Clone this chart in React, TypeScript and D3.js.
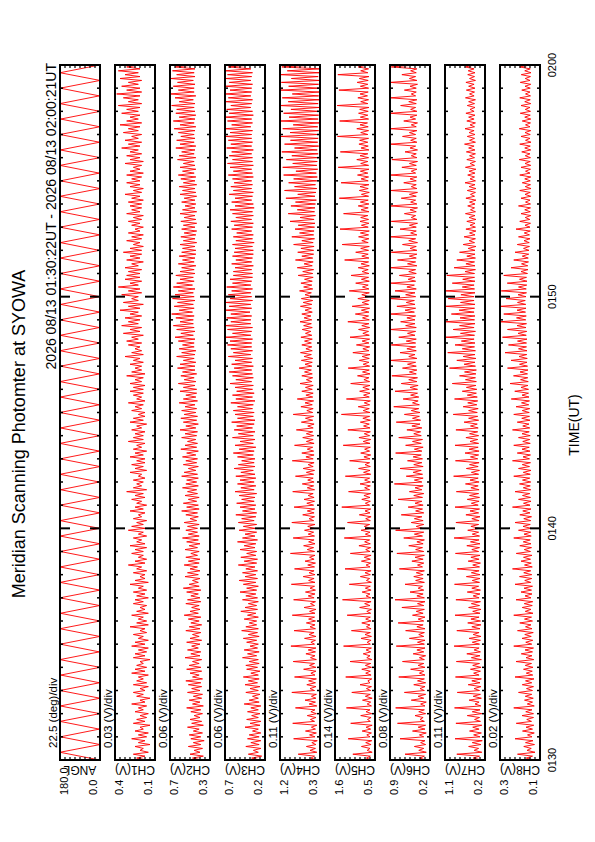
import React from "react";
import * as d3 from "d3";

// the plot is laid out in landscape (842 x 595) and turned onto the portrait page
const PAGE_W = 842;
const PAGE_H = 595;

const title = "Meridian Scanning Photomter at SYOWA";
const periodLabel = "2026 08/13 01:30:22UT - 2026 08/13 02:00:21UT";
const xTitle = "TIME(UT)";

const timeTicks = [0, 10, 20, 30]; // minutes after 01:30
const timeTickLabels = ["0130", "0140", "0150", "0200"];

const channelNames = ["ANGL", "CH1(V)", "CH2(V)", "CH3(V)", "CH4(V)", "CH5(V)", "CH6(V)", "CH7(V)", "CH8(V)"];
const divLabels = [
  "22.5 (deg)/div", "0.03 (V)/div", "0.06 (V)/div", "0.06 (V)/div", "0.11 (V)/div",
  "0.14 (V)/div", "0.08 (V)/div", "0.11 (V)/div", "0.02 (V)/div",
];
const axisMin = [0, 0.13, 0.26, 0.22, 0.3, 0.5, 0.22, 0.24, 0.14];
const axisDiv = [22.5, 0.03, 0.06, 0.06, 0.11, 0.14, 0.08, 0.11, 0.02];
const topLabels = ["180.0", "0.4", "0.7", "0.7", "1.2", "1.6", "0.9", "1.1", "0.3"];
const bottomLabels = ["0.0", "0.1", "0.3", "0.2", "0.3", "0.5", "0.2", "0.2", "0.1"];

// scan angle at the turning points, one every 20 s
const angl = [
  2, 180, 0, 178, 3, 180, 1, 179, 0, 180,
  2, 177, 0, 180, 3, 179, 1, 180, 0, 178,
  2, 180, 0, 179, 3, 180, 1, 178, 0, 180,
  2, 179, 0, 180, 1, 177, 3, 180, 0, 179,
  2, 180, 1, 178, 0, 180, 3, 179, 0, 180,
  2, 178, 1, 180, 0, 179, 3, 180, 0, 177,
  2, 180, 1, 179, 0, 180, 3, 178, 0, 180,
  2, 179, 1, 180, 0, 178, 3, 180, 0, 179,
  2, 180, 1, 177, 0, 180, 3, 179, 0, 180,
  2,
];

// photometer channels, one sample every 5 s (one row per minute)
const ch1 = [
  .18, .24, .19, .26, .17, .22, .20, .25, .16, .23, .19, .27,
  .18, .23, .17, .25, .20, .22, .16, .26, .19, .24, .18, .22,
  .17, .25, .20, .23, .18, .27, .19, .22, .16, .24, .20, .26,
  .19, .22, .17, .26, .18, .24, .20, .23, .17, .27, .19, .25,
  .18, .24, .20, .22, .16, .26, .19, .25, .18, .23, .17, .27,
  .19, .25, .17, .23, .20, .26, .18, .22, .19, .28, .17, .24,
  .18, .23, .20, .27, .17, .24, .19, .22, .18, .26, .20, .25,
  .17, .24, .19, .26, .18, .23, .20, .28, .17, .25, .19, .22,
  .19, .26, .18, .24, .21, .29, .19, .25, .18, .23, .20, .27,
  .20, .25, .18, .28, .19, .24, .21, .26, .18, .23, .20, .29,
  .19, .27, .20, .24, .18, .26, .21, .23, .19, .28, .20, .25,
  .18, .24, .21, .27, .19, .25, .20, .30, .18, .26, .21, .24,
  .20, .26, .19, .23, .21, .28, .18, .25, .20, .27, .19, .24,
  .19, .28, .20, .25, .18, .26, .21, .24, .19, .29, .20, .26,
  .20, .25, .19, .27, .21, .24, .18, .28, .20, .26, .19, .23,
  .19, .27, .21, .25, .20, .29, .19, .24, .21, .26, .20, .28,
  .20, .26, .19, .28, .21, .25, .20, .30, .19, .27, .21, .25,
  .21, .28, .20, .26, .22, .31, .20, .27, .21, .25, .22, .29,
  .21, .30, .23, .27, .20, .32, .22, .28, .21, .33, .23, .29,
  .22, .31, .21, .28, .23, .34, .22, .29, .20, .32, .23, .27,
  .23, .33, .21, .29, .22, .35, .23, .28, .21, .31, .22, .30,
  .22, .29, .21, .31, .23, .27, .20, .30, .22, .28, .21, .32,
  .21, .28, .20, .26, .22, .30, .21, .27, .20, .29, .22, .25,
  .20, .27, .22, .29, .21, .26, .20, .30, .22, .27, .21, .28,
  .21, .29, .20, .27, .22, .31, .21, .26, .20, .28, .22, .30,
  .22, .27, .21, .30, .20, .28, .22, .26, .21, .31, .20, .28,
  .22, .30, .21, .28, .23, .33, .22, .29, .21, .31, .23, .27,
  .21, .32, .23, .29, .22, .34, .21, .30, .23, .28, .22, .33,
  .23, .30, .22, .35, .21, .29, .23, .32, .22, .36, .21, .30,
  .22, .33, .23, .29, .21, .34, .22, .31, .23, .35, .22, .30,
  .22,
];
const ch2 = [
  .36, .47, .34, .50, .38, .45, .35, .52, .37, .46, .33, .49,
  .37, .51, .35, .46, .39, .53, .34, .48, .36, .50, .38, .45,
  .35, .49, .37, .54, .34, .47, .38, .51, .36, .46, .35, .53,
  .38, .48, .36, .52, .37, .55, .35, .47, .39, .50, .36, .54,
  .37, .51, .39, .47, .36, .56, .38, .49, .37, .53, .40, .48,
  .38, .54, .36, .50, .39, .47, .37, .55, .38, .51, .36, .49,
  .39, .52, .37, .57, .40, .50, .38, .48, .39, .55, .37, .53,
  .38, .49, .40, .54, .37, .58, .39, .51, .40, .47, .38, .56,
  .40, .53, .38, .50, .41, .57, .39, .52, .38, .55, .41, .49,
  .39, .56, .41, .51, .38, .54, .40, .59, .39, .52, .41, .55,
  .41, .53, .39, .57, .42, .50, .40, .55, .41, .60, .39, .54,
  .40, .58, .42, .52, .39, .56, .41, .53, .42, .59, .40, .55,
  .42, .54, .40, .60, .41, .57, .43, .52, .40, .58, .42, .55,
  .41, .59, .43, .54, .40, .61, .42, .56, .41, .53, .43, .60,
  .42, .56, .41, .62, .43, .55, .40, .58, .42, .61, .41, .57,
  .43, .60, .42, .56, .44, .63, .41, .58, .43, .55, .42, .62,
  .42, .58, .44, .64, .43, .57, .45, .61, .42, .59, .44, .65,
  .44, .62, .43, .58, .45, .66, .44, .60, .43, .63, .45, .59,
  .45, .64, .44, .68, .46, .61, .44, .66, .45, .70, .46, .62,
  .46, .67, .45, .72, .47, .63, .45, .69, .46, .65, .44, .71,
  .45, .68, .46, .64, .44, .70, .47, .66, .45, .62, .46, .67,
  .44, .62, .45, .60, .43, .64, .45, .59, .44, .63, .43, .60,
  .43, .59, .44, .62, .42, .58, .44, .61, .43, .57, .42, .60,
  .44, .58, .42, .61, .43, .57, .44, .62, .42, .59, .44, .56,
  .43, .60, .44, .57, .42, .62, .43, .59, .44, .63, .42, .58,
  .44, .61, .43, .64, .45, .59, .43, .62, .44, .58, .45, .65,
  .43, .63, .45, .60, .44, .67, .43, .62, .45, .66, .44, .61,
  .45, .64, .44, .69, .43, .62, .45, .70, .44, .63, .43, .67,
  .44, .66, .45, .72, .44, .63, .46, .68, .43, .74, .45, .64,
  .45, .70, .44, .65, .46, .73, .44, .66, .45, .71, .44, .68,
  .44,
];
const ch3 = [
  .28, .38, .26, .42, .30, .36, .27, .45, .29, .39, .27, .43,
  .29, .41, .27, .37, .30, .46, .28, .40, .27, .44, .30, .38,
  .28, .43, .30, .39, .27, .47, .29, .41, .30, .37, .28, .45,
  .30, .40, .28, .46, .31, .42, .29, .48, .30, .39, .28, .44,
  .31, .45, .29, .41, .30, .49, .32, .43, .29, .47, .31, .40,
  .30, .44, .32, .48, .29, .42, .31, .50, .30, .45, .32, .41,
  .32, .47, .30, .43, .33, .51, .31, .46, .32, .42, .30, .49,
  .31, .45, .33, .52, .32, .44, .30, .48, .33, .53, .31, .46,
  .33, .49, .31, .45, .34, .54, .32, .47, .31, .51, .33, .44,
  .32, .52, .34, .47, .33, .55, .31, .49, .34, .46, .32, .53,
  .34, .48, .32, .54, .35, .50, .33, .57, .32, .49, .34, .52,
  .33, .56, .35, .50, .34, .53, .32, .58, .35, .51, .33, .55,
  .35, .52, .33, .57, .34, .51, .36, .59, .34, .54, .35, .50,
  .34, .55, .36, .60, .35, .53, .33, .58, .36, .52, .34, .61,
  .36, .54, .34, .59, .37, .56, .35, .62, .34, .55, .36, .58,
  .35, .60, .37, .55, .36, .63, .34, .57, .37, .61, .35, .56,
  .37, .58, .36, .64, .38, .57, .36, .61, .37, .65, .38, .59,
  .36, .62, .38, .58, .37, .66, .39, .60, .37, .63, .38, .67,
  .38, .64, .37, .69, .39, .61, .38, .67, .37, .70, .39, .63,
  .39, .68, .38, .63, .40, .70, .38, .65, .39, .69, .37, .64,
  .38, .66, .39, .62, .37, .68, .39, .61, .38, .64, .37, .60,
  .37, .60, .38, .58, .36, .62, .38, .57, .37, .61, .36, .59,
  .36, .58, .37, .61, .35, .57, .37, .60, .36, .56, .38, .62,
  .37, .59, .36, .63, .38, .57, .36, .61, .37, .64, .35, .58,
  .36, .62, .38, .58, .37, .65, .36, .60, .38, .63, .37, .59,
  .38, .61, .36, .66, .37, .60, .38, .64, .36, .67, .37, .61,
  .37, .65, .38, .62, .36, .68, .38, .63, .37, .66, .38, .69,
  .38, .64, .37, .70, .39, .62, .37, .67, .38, .70, .36, .65,
  .37, .68, .39, .63, .38, .70, .37, .66, .39, .70, .38, .64,
  .38, .70, .37, .65, .39, .69, .38, .67, .37, .70, .39, .66,
  .38,
];
const ch4 = [
  .38, .50, .42, .78, .37, .52, .40, .60, .39, .48, .36, .88,
  .41, .53, .38, .62, .40, .49, .37, .90, .42, .51, .39, .58,
  .38, .50, .41, .84, .37, .54, .40, .63, .39, .49, .38, .92,
  .42, .52, .39, .59, .40, .55, .38, .86, .41, .50, .39, .66,
  .39, .53, .42, .89, .38, .51, .41, .61, .40, .56, .39, .94,
  .42, .50, .40, .64, .39, .54, .43, .87, .40, .52, .41, .60,
  .40, .55, .42, .91, .41, .53, .39, .65, .42, .51, .40, .88,
  .43, .56, .41, .62, .40, .52, .42, .93, .41, .55, .43, .67,
  .41, .54, .43, .86, .42, .57, .40, .63, .43, .53, .41, .95,
  .42, .58, .44, .66, .41, .55, .43, .89, .42, .56, .44, .64,
  .43, .57, .41, .92, .44, .54, .42, .68, .43, .58, .42, .87,
  .44, .59, .42, .65, .43, .56, .45, .90, .42, .58, .44, .69,
  .43, .57, .45, .84, .44, .60, .42, .67, .45, .56, .43, .91,
  .45, .61, .43, .70, .44, .58, .46, .86, .43, .60, .45, .68,
  .44, .60, .46, .82, .45, .57, .43, .71, .46, .62, .44, .89,
  .46, .59, .45, .72, .47, .63, .44, .80, .46, .61, .45, .70,
  .47, .62, .45, .74, .48, .60, .46, .70, .47, .64, .49, .76,
  .48, .63, .47, .71, .46, .65, .49, .73, .47, .61, .48, .70,
  .49, .64, .47, .72, .48, .62, .50, .69, .47, .66, .49, .74,
  .48, .65, .50, .70, .47, .63, .49, .73, .48, .67, .46, .71,
  .47, .63, .49, .75, .46, .66, .48, .72, .47, .64, .45, .78,
  .46, .68, .44, .80, .47, .65, .45, .84, .46, .70, .44, .79,
  .44, .72, .43, .88, .45, .70, .42, .92, .44, .75, .43, .85,
  .42, .78, .41, .96, .43, .74, .40, 1.00, .42, .80, .41, .94,
  .40, .84, .38, 1.05, .41, .79, .39, 1.08, .37, .86, .40, .99,
  .37, .88, .36, 1.10, .38, .83, .35, 1.12, .37, .90, .36, 1.04,
  .35, .92, .34, 1.14, .36, .86, .33, 1.08, .35, .95, .34, 1.16,
  .34, .96, .33, 1.12, .35, .89, .32, 1.17, .34, .98, .33, 1.10,
  .33, .94, .32, 1.18, .34, 1.00, .31, 1.13, .33, .91, .32, 1.17,
  .32, .99, .33, 1.15, .31, .93, .34, 1.18, .32, 1.02, .31, 1.14,
  .33,
];
const ch5 = [
  .60, .74, .63, 1.12, .58, .72, .64, .88, .61, .76, .59, 1.25,
  .64, .73, .60, .86, .62, .75, .58, 1.18, .63, .71, .61, .90,
  .59, .75, .64, 1.30, .60, .72, .62, .85, .58, .77, .63, 1.15,
  .62, .74, .60, .92, .64, .70, .59, 1.32, .61, .76, .63, .87,
  .60, .77, .62, 1.20, .59, .73, .64, .83, .62, .75, .60, 1.38,
  .63, .72, .61, .89, .60, .78, .63, 1.16, .61, .74, .64, .87,
  .61, .76, .63, 1.28, .62, .73, .60, .93, .64, .79, .61, 1.41,
  .62, .75, .64, .86, .61, .77, .63, 1.22, .60, .74, .65, .91,
  .63, .78, .61, 1.34, .64, .75, .62, .88, .63, .80, .61, 1.19,
  .64, .76, .62, .95, .63, .79, .65, 1.36, .62, .77, .64, .89,
  .62, .80, .65, 1.27, .63, .76, .61, .94, .64, .78, .62, 1.43,
  .65, .77, .63, .87, .64, .81, .62, 1.24, .65, .79, .63, .92,
  .63, .79, .65, 1.33, .62, .82, .64, .96, .63, .78, .65, 1.21,
  .64, .81, .62, .90, .65, .79, .63, 1.39, .64, .83, .62, .95,
  .65, .80, .63, 1.26, .64, .82, .66, .91, .63, .84, .65, 1.44,
  .64, .83, .66, .97, .65, .80, .63, 1.30, .66, .82, .64, .93,
  .66, .84, .64, 1.18, .65, .81, .67, .99, .64, .85, .66, 1.25,
  .65, .83, .67, .94, .66, .86, .64, 1.12, .67, .84, .65, 1.02,
  .67, .86, .65, 1.20, .66, .84, .68, .96, .65, .87, .67, 1.26,
  .66, .85, .68, 1.05, .67, .88, .65, 1.14, .68, .86, .66, .98,
  .68, .87, .66, 1.22, .67, .85, .69, 1.04, .66, .88, .68, 1.17,
  .67, .86, .69, .97, .66, .89, .68, 1.35, .67, .87, .69, 1.04,
  .68, .90, .66, 1.42, .69, .87, .67, .96, .68, .91, .66, 1.48,
  .69, .88, .67, .92, .68, .90, .70, 1.38, .67, .89, .69, .97,
  .67, .91, .69, 1.50, .68, .88, .66, .94, .69, .92, .67, 1.45,
  .69, .89, .68, .99, .70, .91, .67, 1.53, .68, .90, .70, 1.01,
  .68, .92, .70, 1.47, .67, .89, .69, .95, .70, .93, .68, 1.55,
  .70, .90, .68, 1.01, .69, .92, .71, 1.49, .68, .91, .70, .96,
  .69, .93, .67, 1.56, .70, .90, .68, .98, .71, .92, .69, 1.51,
  .68, .91, .70, 1.00, .69, .94, .67, 1.54, .70, .90, .68, .97,
  .69,
];
const ch6 = [
  .29, .38, .31, .62, .28, .40, .32, .47, .29, .37, .30, .70,
  .32, .39, .28, .50, .30, .41, .29, .74, .31, .38, .33, .46,
  .29, .40, .31, .77, .30, .37, .28, .52, .32, .41, .29, .63,
  .31, .38, .30, .48, .29, .42, .31, .72, .30, .39, .32, .53,
  .30, .41, .32, .66, .31, .39, .29, .49, .32, .43, .30, .76,
  .31, .42, .30, .55, .32, .40, .31, .61, .30, .43, .33, .73,
  .32, .41, .30, .50, .33, .44, .31, .67, .32, .42, .30, .78,
  .31, .43, .33, .54, .32, .41, .34, .62, .31, .45, .33, .48,
  .33, .44, .31, .71, .34, .42, .32, .51, .33, .46, .31, .75,
  .32, .45, .34, .56, .33, .43, .31, .64, .34, .47, .32, .77,
  .34, .44, .32, .52, .33, .47, .35, .68, .32, .45, .34, .57,
  .33, .46, .35, .73, .34, .48, .32, .55, .35, .46, .33, .79,
  .35, .47, .33, .60, .34, .49, .36, .70, .33, .48, .35, .58,
  .34, .49, .36, .77, .35, .47, .33, .61, .36, .50, .34, .72,
  .36, .48, .37, .59, .35, .51, .38, .76, .37, .50, .39, .63,
  .38, .52, .40, .80, .39, .50, .41, .65, .40, .53, .42, .78,
  .42, .54, .41, .68, .43, .56, .42, .83, .44, .55, .43, .66,
  .44, .58, .45, .86, .43, .56, .46, .70, .44, .59, .45, .84,
  .45, .60, .44, .72, .46, .58, .45, .86, .44, .61, .46, .69,
  .46, .59, .45, .86, .47, .62, .45, .75, .46, .60, .47, .86,
  .45, .61, .46, .78, .44, .59, .47, .85, .45, .57, .46, .71,
  .44, .56, .45, .86, .43, .58, .45, .74, .44, .55, .43, .84,
  .43, .54, .44, .66, .42, .56, .45, .86, .43, .53, .44, .70,
  .44, .55, .42, .84, .43, .52, .45, .63, .44, .54, .42, .86,
  .43, .53, .45, .68, .44, .55, .42, .85, .43, .52, .44, .64,
  .44, .54, .43, .86, .45, .52, .43, .67, .44, .55, .42, .83,
  .43, .52, .44, .62, .42, .54, .45, .86, .43, .53, .44, .66,
  .45, .55, .43, .85, .44, .52, .42, .64, .45, .54, .43, .86,
  .43, .53, .45, .69, .44, .56, .43, .86, .45, .52, .44, .63,
  .44, .54, .42, .86, .43, .55, .45, .67, .44, .53, .43, .84,
  .44,
];
const ch7 = [
  .32, .50, .36, .86, .31, .48, .38, .60, .33, .52, .30, .90,
  .35, .49, .32, .58, .37, .51, .31, .88, .34, .47, .36, .63,
  .31, .52, .35, .91, .33, .46, .37, .59, .32, .50, .34, .85,
  .36, .48, .33, .61, .35, .53, .32, .89, .37, .49, .34, .56,
  .33, .51, .36, .87, .32, .54, .35, .64, .34, .48, .37, .92,
  .36, .52, .34, .59, .33, .50, .37, .86, .35, .53, .33, .62,
  .34, .55, .37, .90, .35, .51, .33, .60, .36, .54, .34, .88,
  .37, .50, .35, .63, .34, .53, .38, .91, .36, .52, .35, .65,
  .35, .54, .37, .85, .36, .51, .34, .61, .37, .55, .35, .89,
  .38, .53, .36, .64, .35, .56, .37, .92, .36, .52, .38, .62,
  .36, .55, .38, .88, .37, .53, .35, .66, .38, .57, .36, .90,
  .39, .54, .37, .63, .36, .58, .38, .87, .37, .55, .39, .67,
  .37, .57, .39, .93, .38, .54, .36, .65, .39, .58, .37, .89,
  .40, .56, .38, .68, .37, .59, .39, .90, .38, .57, .40, .66,
  .38, .58, .40, .88, .39, .56, .41, .70, .38, .60, .40, .94,
  .41, .60, .39, .72, .42, .62, .40, .91, .41, .63, .43, .74,
  .42, .65, .44, .96, .43, .67, .45, .80, .44, .69, .43, 1.02,
  .45, .70, .46, .86, .44, .72, .46, 1.06, .45, .74, .47, .90,
  .46, .76, .48, 1.10, .47, .78, .45, .94, .48, .80, .46, 1.12,
  .47, .79, .46, .98, .48, .81, .47, 1.12, .46, .78, .48, 1.05,
  .48, .77, .46, 1.12, .47, .74, .48, .96, .46, .73, .47, 1.08,
  .47, .68, .45, .92, .46, .66, .47, .86, .45, .64, .46, .80,
  .46, .61, .44, .72, .47, .59, .45, .70, .46, .58, .44, .66,
  .45, .57, .46, .64, .44, .59, .46, .67, .45, .56, .47, .62,
  .46, .58, .44, .66, .47, .56, .45, .63, .44, .59, .46, .68,
  .45, .57, .47, .62, .46, .59, .44, .67, .47, .57, .45, .64,
  .47, .58, .45, .65, .46, .60, .48, .69, .45, .58, .47, .63,
  .46, .59, .48, .68, .47, .57, .45, .64, .48, .60, .46, .66,
  .48, .57, .46, .63, .47, .60, .45, .67, .48, .58, .47, .65,
  .46, .60, .48, .66, .45, .58, .47, .62, .46, .61, .48, .67,
  .47,
];
const ch8 = [
  .165, .195, .170, .230, .160, .192, .175, .205, .162, .198, .168, .240,
  .172, .190, .163, .210, .170, .196, .165, .235, .174, .193, .166, .212,
  .166, .197, .172, .245, .163, .191, .170, .202, .167, .199, .173, .226,
  .170, .194, .166, .211, .173, .198, .164, .240, .169, .195, .171, .206,
  .168, .199, .174, .236, .165, .196, .172, .215, .170, .200, .166, .245,
  .173, .197, .169, .212, .175, .201, .167, .230, .172, .198, .176, .221,
  .170, .202, .174, .245, .168, .199, .176, .211, .171, .203, .169, .236,
  .176, .200, .172, .216, .174, .204, .170, .240, .177, .201, .173, .222,
  .173, .205, .177, .250, .171, .202, .175, .216, .178, .206, .172, .235,
  .178, .203, .174, .221, .176, .207, .179, .245, .175, .204, .177, .226,
  .175, .208, .179, .240, .177, .205, .174, .221, .180, .209, .176, .250,
  .180, .206, .176, .226, .178, .210, .181, .240, .177, .207, .179, .222,
  .177, .210, .181, .245, .179, .207, .176, .226, .182, .211, .178, .250,
  .182, .208, .178, .231, .180, .212, .183, .245, .179, .209, .181, .226,
  .179, .212, .183, .250, .181, .209, .184, .231, .180, .213, .182, .245,
  .183, .211, .181, .236, .185, .214, .182, .255, .184, .212, .186, .241,
  .186, .216, .188, .260, .187, .218, .189, .246, .190, .220, .188, .270,
  .190, .222, .192, .256, .191, .224, .193, .280, .192, .226, .194, .266,
  .194, .230, .192, .290, .195, .228, .193, .270, .196, .232, .194, .300,
  .197, .234, .195, .285, .198, .232, .196, .300, .197, .230, .199, .276,
  .196, .228, .194, .295, .195, .226, .193, .271, .192, .222, .194, .285,
  .190, .216, .188, .256, .189, .214, .186, .245, .187, .211, .185, .240,
  .184, .206, .182, .231, .183, .204, .180, .226, .182, .203, .179, .236,
  .180, .200, .178, .221, .181, .199, .177, .216, .179, .201, .178, .226,
  .178, .198, .180, .216, .177, .200, .179, .221, .176, .199, .178, .211,
  .179, .201, .177, .221, .180, .198, .178, .216, .177, .200, .179, .223,
  .178, .199, .180, .213, .177, .201, .179, .221, .176, .198, .180, .216,
  .179, .200, .177, .223, .180, .198, .178, .211, .177, .201, .179, .219,
  .178, .199, .180, .216, .177, .201, .179, .221, .178, .198, .180, .213,
  .179, .200, .177, .219, .180, .199, .178, .215, .176, .201, .179, .221,
  .178,
];

const series = [angl, ch1, ch2, ch3, ch4, ch5, ch6, ch7, ch8];
const sampleStep = [20 / 60, 5 / 60, 5 / 60, 5 / 60, 5 / 60, 5 / 60, 5 / 60, 5 / 60, 5 / 60];

const FONT = "'Liberation Sans', Arial, Helvetica, sans-serif";
const margin = { left: 82, right: 65, top: 60 };
const panelH = 40;
const panelGap = 15;

export default function App() {
  const x = d3.scaleLinear().domain([0, 30]).range([margin.left, PAGE_W - margin.right]);
  const [x0, x1] = x.range();
  const minutes = d3.range(1, 30);

  return (
    <svg
      width={PAGE_H}
      height={PAGE_W}
      style={{ position: "absolute", left: 0, top: 0, background: "#fff" }}
      fontFamily={FONT}
    >
      <g transform={`translate(0,${PAGE_W}) rotate(-90)`}>
        <text x={408} y={25} fontSize={18} textAnchor="middle">{title}</text>
        <text x={x1 + 2} y={56} fontSize={14} textAnchor="end">{periodLabel}</text>

        {series.map((data, k) => {
          const top = margin.top + k * (panelH + panelGap);
          const y = d3
            .scaleLinear()
            .domain([axisMin[k], axisMin[k] + 8 * axisDiv[k]])
            .range([top + panelH, top]);
          const line = d3
            .line<number>()
            .x((_, i) => x(i * sampleStep[k]))
            .y((d) => y(d));
          return (
            <g key={k}>
              <defs>
                <clipPath id={`clip-${k}`}>
                  <rect x={x0} y={top} width={x1 - x0} height={panelH} />
                </clipPath>
              </defs>
              <path
                d={line(data) || ""}
                fill="none"
                stroke="#ff0000"
                strokeWidth={0.9}
                clipPath={`url(#clip-${k})`}
              />
              {/* time ticks on both long edges */}
              {minutes.map((m) => {
                const len = m % 10 === 0 ? 10 : 3;
                return (
                  <g key={m} stroke="#000" strokeWidth={m % 10 === 0 ? 2 : 1.5}>
                    <line x1={x(m)} x2={x(m)} y1={top} y2={top + len} />
                    <line x1={x(m)} x2={x(m)} y1={top + panelH} y2={top + panelH - len} />
                  </g>
                );
              })}
              {/* one tick per division on the short edges */}
              {d3.range(1, 8).map((j) => {
                const yy = y(axisMin[k] + j * axisDiv[k]);
                return (
                  <g key={j} stroke="#000" strokeWidth={1.2}>
                    <line x1={x0} x2={x0 + 3} y1={yy} y2={yy} />
                    <line x1={x1} x2={x1 - 3} y1={yy} y2={yy} />
                  </g>
                );
              })}
              <rect x={x0} y={top} width={x1 - x0} height={panelH} fill="none" stroke="#000" strokeWidth={2} />
              <text x={94} y={top - 3} fontSize={11.5}>{divLabels[k]}</text>
              <text x={47} y={top + 8} fontSize={11}>{topLabels[k]}</text>
              <text x={47} y={top + 37} fontSize={11}>{bottomLabels[k]}</text>
              <text
                transform={`translate(76,${top + panelH / 2}) rotate(-90)`}
                fontSize={12}
                textAnchor="middle"
              >
                {channelNames[k]}
              </text>
            </g>
          );
        })}

        {timeTicks.map((t, i) => (
          <text
            key={t}
            x={x(t)}
            y={margin.top + 8 * (panelH + panelGap) + panelH + 16}
            fontSize={11}
            textAnchor="middle"
          >
            {timeTickLabels[i]}
          </text>
        ))}
        <text x={417} y={579} fontSize={14} textAnchor="middle">{xTitle}</text>
      </g>
    </svg>
  );
}
